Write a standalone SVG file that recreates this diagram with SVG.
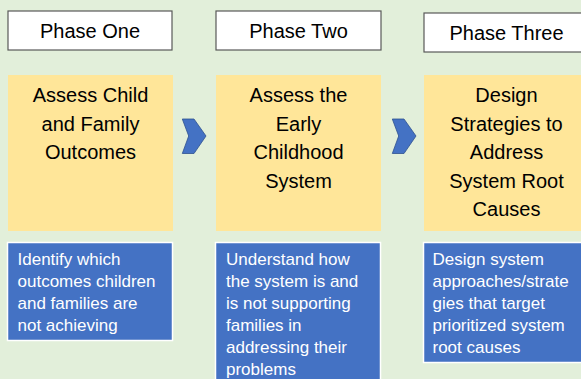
<svg xmlns="http://www.w3.org/2000/svg" width="581" height="379" viewBox="0 0 581 379">
<style>
.phase{fill:#ffffff;stroke:#595959;stroke-width:1.2}
.ptext{font-family:"Liberation Sans",Arial,sans-serif;font-size:20px;fill:#000;text-anchor:middle}
.step{fill:#ffe699}
.stext{font-family:"Liberation Sans",Arial,sans-serif;font-size:20px;fill:#000;text-anchor:middle}
.desc{fill:#4472c4;stroke:#ffffff;stroke-width:1.5}
.dtext{font-family:"Liberation Sans",Arial,sans-serif;font-size:17px;fill:#ffffff}
.chev{fill:#4472c4;stroke:#2f528f;stroke-width:0.8}
</style>
<rect x="0" y="0" width="581" height="379" fill="#e2efda"/>
<g id="phase-one">
<rect class="phase" x="8" y="11" width="164" height="39"/>
<text class="ptext" x="90" y="37.5">Phase One</text>
</g>
<g id="phase-two">
<rect class="phase" x="216" y="11" width="165" height="39"/>
<text class="ptext" x="298.5" y="37.5">Phase Two</text>
</g>
<g id="phase-three">
<rect class="phase" x="424" y="13" width="170" height="39"/>
<text class="ptext" x="506.5" y="39.5">Phase Three</text>
</g>
<g id="step-one">
<rect class="step" x="8" y="75" width="165" height="156"/>
<text class="stext" x="90.5" y="102.3">Assess Child</text>
<text class="stext" x="90.5" y="130.8">and Family</text>
<text class="stext" x="90.5" y="159.3">Outcomes</text>
</g>
<g id="step-two">
<rect class="step" x="216" y="75" width="165" height="156"/>
<text class="stext" x="298.5" y="102.3">Assess the</text>
<text class="stext" x="298.5" y="130.8">Early</text>
<text class="stext" x="298.5" y="159.3">Childhood</text>
<text class="stext" x="298.5" y="187.8">System</text>
</g>
<g id="step-three">
<rect class="step" x="424" y="75" width="165" height="156"/>
<text class="stext" x="506.5" y="102.3">Design</text>
<text class="stext" x="506.5" y="130.8">Strategies to</text>
<text class="stext" x="506.5" y="159.3">Address</text>
<text class="stext" x="506.5" y="187.8">System Root</text>
<text class="stext" x="506.5" y="216.3">Causes</text>
</g>
<g id="desc-one">
<rect class="desc" x="7.5" y="242.5" width="165" height="98"/>
<text class="dtext" x="17.5" y="265">Identify which</text>
<text class="dtext" x="17.5" y="287">outcomes children</text>
<text class="dtext" x="17.5" y="309">and families are</text>
<text class="dtext" x="17.5" y="331">not achieving</text>
</g>
<g id="desc-two">
<rect class="desc" x="215.5" y="242.5" width="165" height="145"/>
<text class="dtext" x="226" y="265">Understand how</text>
<text class="dtext" x="226" y="287">the system is and</text>
<text class="dtext" x="226" y="309">is not supporting</text>
<text class="dtext" x="226" y="331">families in</text>
<text class="dtext" x="226" y="353">addressing their</text>
<text class="dtext" x="226" y="375">problems</text>
</g>
<g id="desc-three">
<rect class="desc" x="423.5" y="242.5" width="165" height="120"/>
<text class="dtext" x="432.5" y="265">Design system</text>
<text class="dtext" x="432.5" y="287">approaches/strate</text>
<text class="dtext" x="432.5" y="309">gies that target</text>
<text class="dtext" x="432.5" y="331">prioritized system</text>
<text class="dtext" x="432.5" y="353">root causes</text>
</g>
<g id="connectors">
<polygon class="chev" points="182.3,119 194,119 206,136 194,153.5 182.3,153.5 188.7,136"/>
<polygon class="chev" points="392.3,119 404,119 416,136 404,153.5 392.3,153.5 398.7,136"/>
</g>
</svg>
